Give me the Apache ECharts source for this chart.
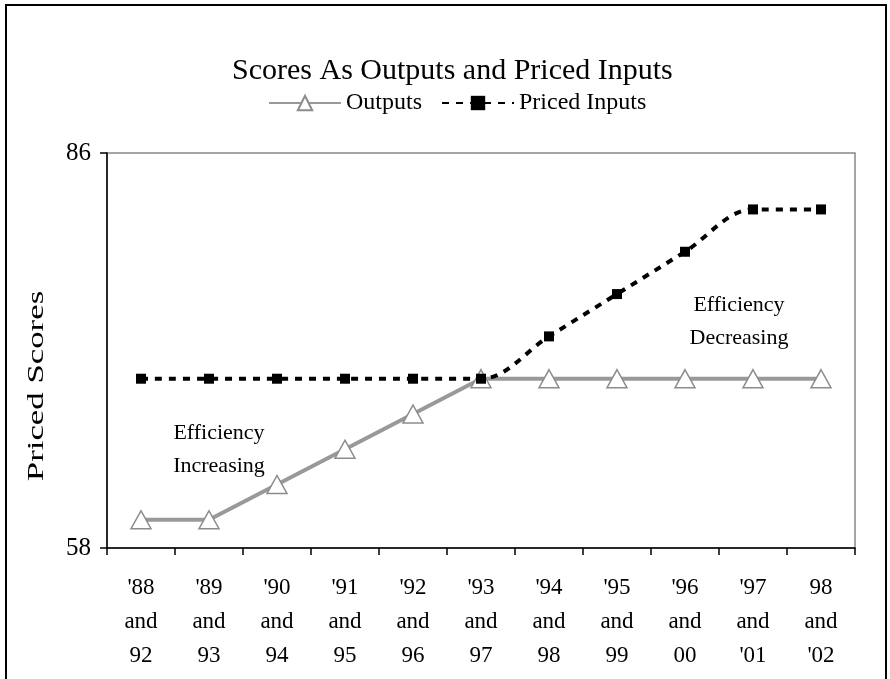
<!DOCTYPE html>
<html>
<head>
<meta charset="utf-8">
<script src="https://cdn.jsdelivr.net/npm/echarts@6/dist/echarts.min.js"></script>
<style>
  html, body { margin: 0; padding: 0; background: #fff; }
  #main { width: 890px; height: 679px; }
</style>
</head>
<body>
<div id="main"></div>
<script>
const categories = ["'88\nand\n92", "'89\nand\n93", "'90\nand\n94", "'91\nand\n95", "'92\nand\n96",
  "'93\nand\n97", "'94\nand\n98", "'95\nand\n99", "'96\nand\n00", "'97\nand\n'01", "98\nand\n'02"];
const outputs = [60, 60, 62.5, 65, 67.5, 70, 70, 70, 70, 70, 70];
const pricedInputs = [70, 70, 70, 70, 70, 70, 73, 76, 79, 82, 82];
const yTicks = [58, 86];

const font = 'Liberation Serif';
const chart = echarts.init(document.getElementById('main'));
chart.setOption({
  backgroundColor: '#fff',
  animation: false,
  title: {
    text: 'Scores As Outputs and Priced Inputs',
    left: 227,
    top: 51,
    textStyle: { fontFamily: font, fontSize: 30, fontWeight: 'normal', color: '#000' },
  },
  legend: {
    left: 263,
    top: 86,
    itemWidth: 72,
    itemHeight: 18,
    itemGap: 19,
    textStyle: { fontFamily: font, fontSize: 24, color: '#000' },
    data: ['Outputs', 'Priced Inputs'],
  },
  grid: {
    left: 107,
    right: 35,
    top: 153,
    bottom: 131,
    show: true,
    borderColor: '#888',
    borderWidth: 1.5,
  },
  xAxis: {
    type: 'category',
    data: categories,
    boundaryGap: true,
    axisLine: { lineStyle: { color: '#000', width: 1.5 } },
    axisTick: { show: true, length: 7, inside: false, lineStyle: { color: '#000', width: 1.5 } },
    axisLabel: {
      interval: 0,
      margin: 23,
      fontFamily: font,
      fontSize: 23,
      lineHeight: 34,
      color: '#000',
    },
    splitLine: { show: false },
  },
  yAxis: {
    type: 'value',
    min: 58,
    max: 86,
    axisLine: { show: true, lineStyle: { color: '#000', width: 1.5 } },
    axisTick: { show: true, length: 7, customValues: yTicks, lineStyle: { color: '#000', width: 1.5 } },
    axisLabel: { customValues: yTicks, margin: 16, fontFamily: font, fontSize: 25, color: '#000' },
    splitLine: { show: false },
  },
  graphic: [
    {
      type: 'rect',
      shape: { x: 6, y: 5, width: 880, height: 700 },
      style: { fill: null, stroke: '#000', lineWidth: 2 },
      z: 100,
    },
    {
      // y axis title, stretched along its length as in the reference
      type: 'text',
      x: 37,
      y: 386,
      rotation: Math.PI / 2,
      scaleX: 1.45,
      style: {
        text: 'Priced Scores',
        fontFamily: font, fontSize: 24,
        fill: '#000', align: 'center', verticalAlign: 'middle',
      },
    },
    {
      type: 'text',
      x: 219,
      y: 450,
      style: {
        text: 'Efficiency\nIncreasing',
        fontFamily: font, fontSize: 22, lineHeight: 33,
        fill: '#000', align: 'center', verticalAlign: 'middle',
      },
    },
    {
      type: 'text',
      x: 739,
      y: 322,
      style: {
        text: 'Efficiency\nDecreasing',
        fontFamily: font, fontSize: 22, lineHeight: 33,
        fill: '#000', align: 'center', verticalAlign: 'middle',
      },
    },
  ],
  series: [
    {
      name: 'Outputs',
      type: 'line',
      data: outputs,
      symbol: 'triangle',
      symbolSize: [20, 18],
      itemStyle: { color: '#fff', borderColor: '#8c8c8c', borderWidth: 1.5 },
      lineStyle: { color: '#999', width: 4 },
      z: 2,
    },
    {
      name: 'Priced Inputs',
      type: 'line',
      data: pricedInputs,
      smooth: 0.35,
      symbol: 'rect',
      symbolSize: 10,
      itemStyle: { color: '#000', borderColor: '#000', borderWidth: 0 },
      lineStyle: { color: '#000', width: 4, type: [7, 7] },
      z: 3,
    },
  ],
});
</script>
</body>
</html>
